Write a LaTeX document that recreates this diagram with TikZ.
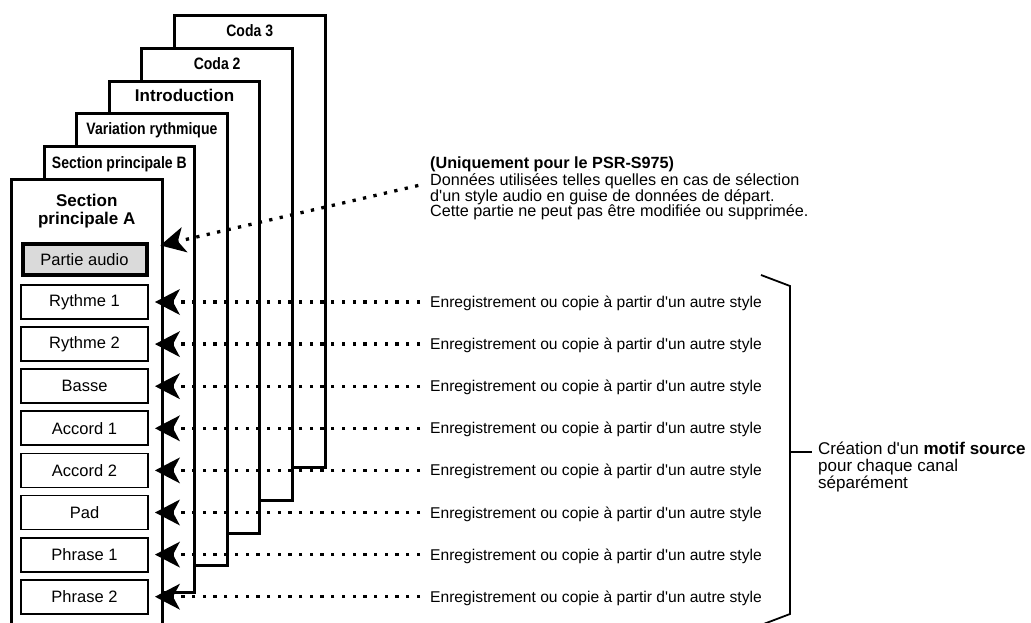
\documentclass[tikz,border=0pt]{standalone}
\usepackage{fontspec}
\setmainfont{Liberation Sans}[Ligatures=TeXOff]
\newfontfamily\condfont[FakeStretch=0.85]{Liberation Sans}
\usepackage{tikz}
\usetikzlibrary{arrows.meta, positioning, calc}
\definecolor{audiogray}{RGB}{218,218,218}

\begin{document}
\begin{tikzpicture}[
    x=1pt, y=-1pt,
    card/.style={
        rectangle,
        draw,
        fill=white,
        line width=3pt,
        anchor=north west,
        inner sep=0pt,
        minimum width=150.5pt
    },
    cardtitle/.style={
        inner sep=0pt,
        text height=11.5pt,
        text depth=0pt,
        font=\condfont\bfseries\fontsize{16.5pt}{16.5pt}\selectfont
    },
    chan/.style={
        rectangle,
        draw,
        fill=white,
        line width=1.8pt,
        outer sep=0pt,
        minimum width=127pt,
        minimum height=34pt,
        inner sep=0pt,
        font=\fontsize{16.5pt}{16.5pt}\selectfont
    },
    note/.style={
        inner sep=0pt,
        text height=11pt,
        text depth=0pt,
        font=\fontsize{15.6pt}{15.6pt}\selectfont
    },
    feed/.style={
        line width=3.3pt,
        dash pattern=on 3.3pt off 7.4pt,
        -{Stealth[length=25pt, width=26pt, inset=7pt, line width=0pt]},
        shorten >=7pt,
        shorten <=10pt
    },
    brace/.style={line width=1.8pt}
]
\useasboundingbox (0,0) rectangle (1031,623);
\clip (0,0) rectangle (1031,623);

% Style sections, back to front
\node[card, minimum height=452pt] (coda3) at (173,14) {};
\node[card, minimum height=452pt] (coda2) at (140.4,46.8) {};
\node[card, minimum height=452pt] (intro) at (107.8,79.6) {};
\node[card, minimum height=452pt] (varr) at (75.2,112.4) {};
\node[card, minimum height=446pt] (secb) at (42.6,145.2) {};
\node[card, minimum height=470pt] (seca) at (10,178) {};

\node[cardtitle, below=11.3pt of coda3.north] (coda3t) {Coda 3};
\node[cardtitle, below=11.3pt of coda2.north] (coda2t) {Coda 2};
\node[cardtitle, font=\bfseries\fontsize{17pt}{17pt}\selectfont, text height=12.2pt,
      below=9.8pt of intro.north] (introt) {Introduction};
\node[cardtitle, below=10.8pt of varr.north] (varrt) {Variation rythmique};
\node[cardtitle, below=11.5pt of secb.north] (secbt) {Section principale B};
\node[align=center, inner sep=0pt, font=\bfseries\fontsize{17pt}{18pt}\selectfont,
      below=16.4pt of seca.north] (secat) {Section\\principale A};

% Channels of section A
\node[chan, line width=4pt, fill=audiogray, minimum width=124pt, minimum height=31pt] (pa) at (84.5,259.5) {Partie audio};
\node[chan, below=10pt of pa] (rh1) {Rythme 1};
\node[chan, below=8.1pt of rh1] (rh2) {Rythme 2};
\node[chan, below=8.1pt of rh2] (bas) {Basse};
\node[chan, below=8.1pt of bas] (ac1) {Accord 1};
\node[chan, below=8.1pt of ac1] (ac2) {Accord 2};
\node[chan, below=8.1pt of ac2] (pad) {Pad};
\node[chan, below=8.1pt of pad] (ph1) {Phrase 1};
\node[chan, below=8.1pt of ph1] (ph2) {Phrase 2};

% Notes
\node[note, right=282pt of rh1] (e1) {Enregistrement ou copie à partir d'un autre style};
\node[note, right=282pt of rh2] (e2) {Enregistrement ou copie à partir d'un autre style};
\node[note, right=282pt of bas] (e3) {Enregistrement ou copie à partir d'un autre style};
\node[note, right=282pt of ac1] (e4) {Enregistrement ou copie à partir d'un autre style};
\node[note, right=282pt of ac2] (e5) {Enregistrement ou copie à partir d'un autre style};
\node[note, right=282pt of pad] (e6) {Enregistrement ou copie à partir d'un autre style};
\node[note, right=282pt of ph1] (e7) {Enregistrement ou copie à partir d'un autre style};
\node[note, right=282pt of ph2] (e8) {Enregistrement ou copie à partir d'un autre style};

\node[anchor=north west, align=left, inner sep=0pt, font=\fontsize{16.2pt}{15.5pt}\selectfont] (desc) at (430,157)
    {\textbf{(Uniquement pour le PSR-S975)}\\[1.5pt]
     Données utilisées telles quelles en cas de sélection\\
     d'un style audio en guise de données de départ.\\
     Cette partie ne peut pas être modifiée ou supprimée.};

\draw[feed, shorten <=12pt] ($(desc.west)+(0,-6)$) -- ($(pa.east)+(7,-12.5)$);
\draw[feed] (e1) -- (rh1);
\draw[feed] (e2) -- (rh2);
\draw[feed] (e3) -- (bas);
\draw[feed] (e4) -- (ac1);
\draw[feed] (e5) -- (ac2);
\draw[feed] (e6) -- (pad);
\draw[feed] (e7) -- (ph1);
\draw[feed] (e8) -- (ph2);

% Bracket
\draw[brace] (761,275) -- (790,286) -- (790,614) -- (761,625);
\coordinate (brk) at (790,452);
\node[anchor=north west, align=left, inner sep=0pt, font=\fontsize{17pt}{17pt}\selectfont] (cre) at (818,442)
    {Création d'un \textbf{motif source}\\pour chaque canal\\séparément};
\draw[brace] (brk) -- ++(22,0);

\end{tikzpicture}
\end{document}
